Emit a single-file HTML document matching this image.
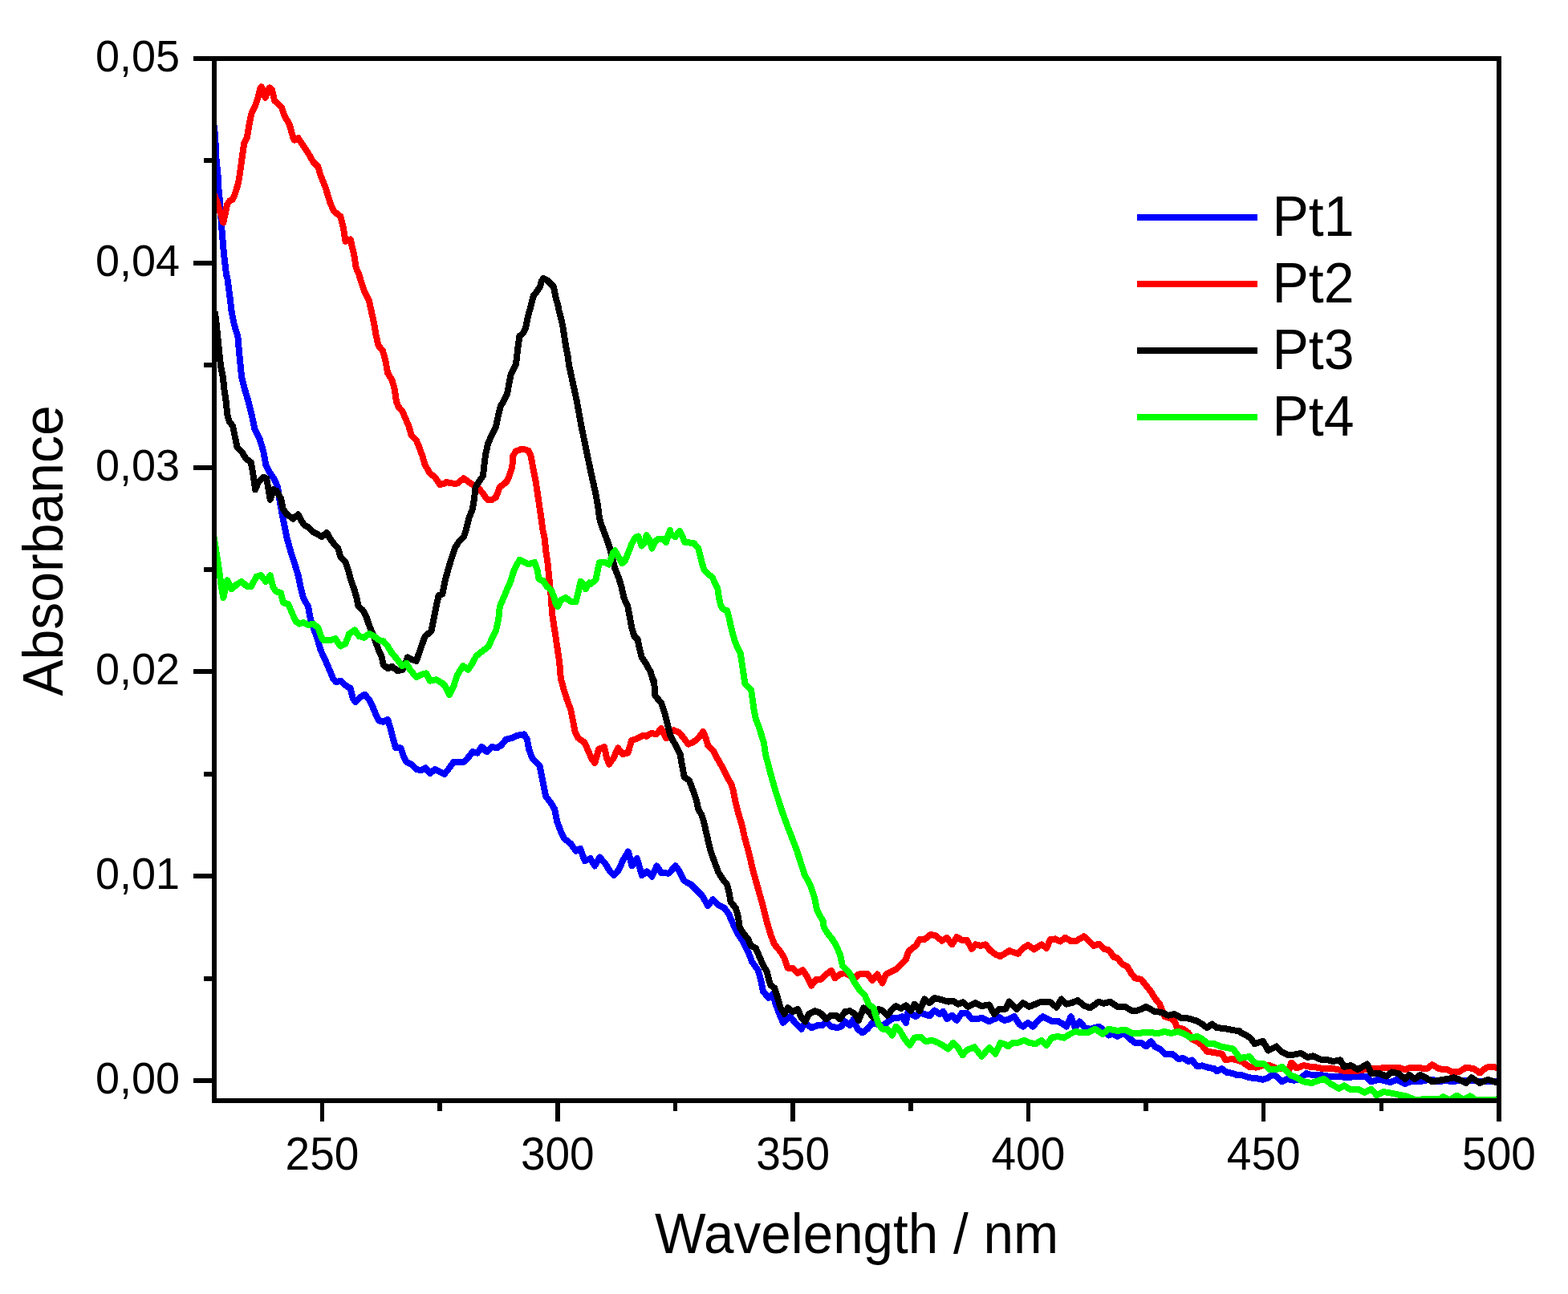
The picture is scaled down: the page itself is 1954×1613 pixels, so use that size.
<!DOCTYPE html>
<html><head><meta charset="utf-8"><title>Absorbance spectra</title>
<style>html,body{margin:0;padding:0;background:#fff;}body{width:1954px;height:1613px;overflow:hidden;}svg{display:block;}</style>
</head><body>
<svg width="1954" height="1613" viewBox="0 0 1954 1613">
<defs><clipPath id="pc"><rect x="267" y="73" width="1601" height="1299"/></clipPath></defs>
<g clip-path="url(#pc)" shape-rendering="crispEdges" fill="none" stroke-width="8" stroke-linejoin="round" stroke-linecap="butt">
<path d="M267 156 L268 171 L269 184 L269.2 195 L272 222.9 L272.4 235 L273.8 249 L276.6 288 L278.9 316 L282.2 343.8 L283.2 345.5 L286.3 368.7 L288.7 388.9 L291.8 404.4 L296.4 419.9 L298 438.5 L299.5 454 L301.1 469.5 L304.9 485 L309.6 500.5 L313.5 516 L317.3 534.5 L323.5 546.9 L328.2 562.4 L331.3 579.3 L335.9 588.6 L342.1 597.9 L346 607.2 L348.3 622.7 L351.4 639.7 L354.5 655.2 L357.6 670.7 L362.3 687.8 L366.9 701.7 L371.6 717.2 L374.7 732.7 L377.8 745.1 L384 756 L386.3 768.3 L388.6 777.6 L393.3 790 L396.4 799.3 L399.5 810.2 L407.2 827 L411.1 836.3 L415 845.6 L418.8 850.3 L424.3 848.7 L430.5 854.2 L436.7 858 L439.8 870.4 L442.9 875.1 L449 868.9 L454.5 865.8 L459.9 872 L464.5 881.3 L468.4 890.6 L472.3 898.3 L477.7 899.9 L483.1 896.8 L487 909.2 L490.1 921.6 L493.2 932.4 L499.4 932.4 L502.5 941.7 L506.4 949.5 L512.6 952.6 L518.8 958.8 L525 960.3 L530.4 957.2 L535.8 964.2 L542 958.8 L548.2 961.9 L553.6 965 L557.7 960.3 L565.5 949.5 L573.2 949.5 L578.7 949.5 L585.6 941.7 L588.7 937.1 L594.9 938.6 L600.4 930.9 L606.6 937.1 L612.8 930.9 L619 932.4 L624.4 929.3 L630.6 921.6 L638.3 920 L644.5 916.9 L653 915.4 L656.9 921.6 L659.2 934 L663.1 944.8 L672.4 954.1 L674.7 965 L677.1 977.4 L680.2 992.9 L686.4 1000.6 L691 1008.3 L694.1 1023.8 L698.8 1036.2 L703.4 1045.5 L711.2 1051.7 L717.8 1060.8 L723.2 1057.7 L728.7 1073.2 L735.6 1070.1 L741.1 1079.4 L747.3 1068.6 L754.2 1076.3 L759.7 1085.6 L765.1 1091.1 L771.3 1084.1 L775.9 1073.2 L782.9 1061.6 L787.6 1079.4 L793.8 1070.1 L799.9 1091.1 L806.1 1086.4 L812.3 1092.6 L818.5 1079.4 L824 1088 L833.3 1088.7 L841.8 1079.4 L846.4 1085.6 L852.6 1098 L861.2 1102.7 L867.4 1108.9 L875.1 1116.6 L882.1 1129 L888.3 1121.3 L895.2 1128.3 L903 1132.1 L908.4 1139.9 L913.8 1152.3 L920 1164.7 L926.2 1174 L932.4 1186.4 L937.1 1198.8 L944.8 1209.6 L947.9 1220.5 L951 1236 L958 1243.7 L963.4 1239 L966.5 1251.4 L971.2 1263.8 L975.8 1274.7 L984.8 1267.2 L991 1275 L998.7 1282.7 L1003.4 1275 L1011.1 1281.2 L1018.9 1278.1 L1025.1 1278.1 L1029.7 1273.4 L1035.9 1279.6 L1043.7 1281.2 L1048.3 1279.6 L1053 1273.4 L1059.2 1278.1 L1063.8 1270.3 L1068.5 1282.7 L1074.7 1287.4 L1080.9 1282.7 L1087.1 1275 L1093.3 1276.5 L1097.9 1279.6 L1102.6 1276.5 L1108.8 1271.9 L1113.4 1268.8 L1119.6 1268.8 L1124.3 1267.2 L1128.9 1275 L1132 1259.5 L1138.2 1265.7 L1141.3 1267.2 L1146 1262.6 L1152.1 1264.1 L1158.3 1266.4 L1164.5 1259.5 L1170.7 1264.1 L1175.4 1261 L1180 1270.3 L1186.2 1265.7 L1192.4 1271.9 L1198.6 1262.6 L1204.8 1262.6 L1211 1270.3 L1217.2 1270.3 L1223.4 1268.8 L1232.7 1273.4 L1238.9 1270.3 L1245.1 1268 L1251.3 1271.9 L1256.2 1271.1 L1263.9 1267.2 L1270.1 1276.5 L1274.8 1279.6 L1281 1275 L1287.2 1279.6 L1293.4 1272.6 L1299.6 1267.2 L1305.8 1270.3 L1312 1273.4 L1318.2 1272.6 L1324.4 1276.5 L1329 1279.6 L1334.5 1267.2 L1339.9 1281.2 L1345.3 1273.4 L1352.3 1281.2 L1358.5 1282.7 L1369.3 1279.6 L1374 1282.7 L1381.7 1290.5 L1386.4 1288.9 L1392.6 1292 L1400.3 1287.4 L1406.5 1293.6 L1414.3 1299.8 L1422 1299.8 L1428.2 1304.4 L1434.4 1298.2 L1439 1304.4 L1445.2 1307.5 L1451.4 1313.7 L1460.7 1313.7 L1468.5 1319.9 L1474.7 1319.1 L1480.9 1323 L1485.5 1321.4 L1491.7 1329.2 L1497.9 1328.4 L1505.7 1330.7 L1513.4 1332.3 L1516.5 1335.4 L1522.7 1332.3 L1528.9 1336.9 L1535.1 1337.7 L1541.3 1340 L1546.8 1339.9 L1556.9 1343.3 L1565.3 1344.1 L1573.8 1345.8 L1580.5 1343.3 L1585.6 1339.9 L1590.7 1341.6 L1597.4 1348.4 L1604.2 1345 L1612.6 1346.7 L1619.4 1345 L1627.8 1338.2 L1634.6 1339.9 L1643 1339.9 L1651.5 1340.8 L1658.2 1342.4 L1668.4 1341.6 L1678.5 1343.3 L1692 1341.6 L1702.1 1341.6 L1708.9 1348.4 L1717.3 1345.8 L1724.1 1346.7 L1732.5 1349.2 L1741 1345.8 L1751.1 1350.9 L1759.5 1347.5 L1768 1348.4 L1776.4 1346.7 L1784.9 1345.8 L1793.3 1348.4 L1801.8 1346.7 L1810.2 1348.4 L1818.7 1346.7 L1827.1 1347.5 L1835.5 1346.7 L1844 1348.4 L1852.4 1347.5 L1867.6 1347.5" stroke="#0000ff"/>
<path d="M265 237 L266 240 L270 250 L273.6 262 L276 270 L278.3 277.5 L281 265 L283 255 L286 250.5 L290 248.5 L292 244 L294 238 L297 228 L299 216 L300.5 205 L304.2 178.3 L308 170.6 L311.1 152 L313.5 141.1 L318.1 131.8 L321.2 122.5 L324.3 110.1 L325.9 108.3 L330.5 121.8 L335.9 109.4 L339 111.7 L342.1 125.6 L346.8 129.5 L350.7 133.4 L354.5 144.2 L360.7 155.1 L365.4 172.1 L366.9 174.5 L371.6 172.1 L377.8 181.4 L384 190.7 L390.2 201.6 L396.4 207.8 L399.5 218.6 L405.7 234.1 L411.9 254.3 L416.5 263.6 L424.3 269.8 L428.1 285.2 L430.5 300.7 L436.7 298.4 L441.3 317.8 L443.6 333.3 L447.5 342.4 L450.6 353.2 L454.5 364.1 L459.9 374.9 L463 388.9 L466.1 402.8 L468.4 416.8 L471.5 430.7 L476.9 436.9 L480 447.8 L483.1 464.8 L488.6 474.1 L491.7 485 L494 500.5 L496.3 506.7 L501.7 512.9 L504.8 520.6 L509.5 531.4 L512.6 542.3 L518.8 548.5 L521.9 556.2 L526.5 568.6 L529.6 579.3 L535.8 590.1 L542 594.8 L548.2 604.1 L554.4 602.5 L556.2 601 L563.9 602.5 L570.1 602.5 L577.9 596.3 L585.6 601.8 L590.3 604.9 L596.5 608.7 L601.1 614.2 L607.3 622.7 L613.5 622.7 L618.2 619.6 L622.8 607.2 L629 602.5 L632.1 599.4 L635.2 591.7 L638.3 582.4 L639.1 568.6 L643 562.4 L650.7 559.6 L658.5 561.7 L661.6 568.6 L664.7 585.5 L667.8 601 L670.1 616.5 L672.4 632 L674.7 647.5 L676.3 659.9 L678.6 670.7 L680.2 686.2 L682.5 701.7 L684 717.2 L685.6 732.7 L687.1 748.2 L687.9 763.7 L690.2 779.2 L692.6 794.7 L694.9 810.2 L697.2 825.5 L698.8 845.6 L702.6 859.6 L706.5 872 L711.2 884.4 L714.3 899.9 L716.6 912.3 L720.5 920 L728.2 925.4 L732.9 935.5 L737.5 946.4 L741.4 951 L746 934 L753 930.9 L756.1 944.8 L759.2 952.6 L764.6 944.8 L770 932.4 L776.2 940.2 L782.4 938.6 L787.1 923.1 L793.3 920.8 L801 916.9 L805.7 917.7 L811.9 913.8 L817.9 915.3 L824 908.1 L830.2 920.4 L834.2 913.2 L839.4 910.2 L846.5 913.2 L851.6 919.4 L857.8 927.6 L862.9 925.5 L869 921.4 L876.2 912.2 L879.3 919.4 L882.4 929.6 L889.5 936.8 L890.8 940 L899.3 954.9 L906.8 969.8 L911.3 977.2 L913.5 984.6 L916.5 999.5 L920.3 1014.4 L924.8 1029.3 L928 1044.2 L933 1062 L938.2 1084.6 L944.5 1107 L950.8 1129.3 L951.8 1133.7 L955.7 1149.2 L960.3 1164.7 L965 1177.1 L972.7 1186.4 L977.4 1194.1 L981.7 1206.8 L987.9 1206.8 L994.1 1213 L1000.3 1209.1 L1004.9 1216.1 L1011.1 1228.5 L1017.3 1220.7 L1023.5 1220.7 L1029.7 1214.5 L1035.9 1209.9 L1040.6 1219.2 L1046.8 1214.5 L1053 1213 L1059.2 1216.1 L1065.4 1219.2 L1070 1214.5 L1080.9 1213.8 L1087.1 1222.3 L1093.3 1214.5 L1099.5 1225.4 L1104.1 1214.5 L1110.3 1211.4 L1116.5 1208.3 L1122.7 1202.1 L1128.9 1195.9 L1132 1186.6 L1136.7 1182 L1141.3 1178.9 L1146 1171.1 L1152.1 1171.1 L1159.9 1164.9 L1166.1 1166.5 L1173.8 1172.7 L1180 1168.8 L1186.2 1177.3 L1192.4 1168 L1198.6 1171.9 L1204.8 1171.9 L1211 1182.8 L1215.7 1177.3 L1221.9 1178.9 L1228.1 1177.3 L1234.3 1185.1 L1240.5 1189.7 L1246.7 1192.1 L1252.9 1188.2 L1257.7 1185.1 L1268.6 1189 L1274.8 1182 L1281 1178.1 L1288.7 1183.5 L1298 1177.3 L1304.2 1182 L1308.9 1171.1 L1315.1 1170.4 L1321.3 1173.5 L1327.5 1168.8 L1335.2 1173.5 L1341.4 1172.7 L1350.7 1167.3 L1358.5 1174.2 L1363.1 1178.9 L1369.3 1176.6 L1375.5 1182.8 L1381.7 1184.3 L1387.9 1192.8 L1392.6 1194.4 L1398.8 1202.1 L1405 1205.2 L1409.6 1213 L1414.3 1219.2 L1422 1220.7 L1428.2 1228.5 L1434.4 1236.2 L1439 1244 L1445.2 1251.7 L1448.3 1259.5 L1451.4 1267.2 L1459.2 1269.5 L1463.8 1273.4 L1466.9 1281.2 L1474.7 1282.7 L1480.9 1287.4 L1485.5 1295.1 L1491.7 1298.2 L1497.9 1302.9 L1504.1 1310.6 L1513.4 1312.1 L1522.7 1313.7 L1527.4 1321.4 L1535.1 1319.9 L1541.3 1321.4 L1548.4 1323.9 L1556.9 1329.8 L1565.3 1330.6 L1573.8 1328.1 L1582.2 1328.1 L1590.7 1331.5 L1599.1 1332.3 L1605.9 1334.8 L1609.2 1324.7 L1616 1331.5 L1624.4 1328.1 L1632.9 1329.8 L1641.3 1330.6 L1649.8 1332.3 L1658.2 1331.5 L1666.7 1333.2 L1675.1 1334.8 L1692 1334.8 L1702.1 1333.2 L1708.9 1331.5 L1717.3 1332.3 L1725.8 1330.6 L1734.2 1331.5 L1742.7 1330.6 L1751.1 1333.2 L1757.9 1330.6 L1768 1331.1 L1778.1 1332.3 L1784.9 1327.2 L1793.3 1332.3 L1803.5 1333.2 L1810.2 1336.5 L1818.7 1335.7 L1827.1 1330.6 L1837.2 1332.3 L1844 1337.4 L1852.4 1330.6 L1860.9 1329.8 L1867.6 1331.5" stroke="#ff0000"/>
<path d="M267.7 388.9 L269.3 399.7 L270.8 415.2 L272.4 430.7 L273.9 446.2 L275.5 458.6 L277.8 469.5 L279.4 485 L281.7 500.5 L283.2 516 L285.6 525.2 L290.2 531.4 L293.3 546.9 L295.6 557.8 L301.8 564 L306.5 571.7 L312.7 576.2 L315 588.6 L318.1 610.3 L322 601 L328.2 594.8 L332.1 596.3 L334.4 608.7 L336.7 622.7 L340.6 610.3 L344.5 611.8 L349.9 621.1 L353 635.1 L357.6 641.3 L365.4 646.7 L371.6 641.3 L375.4 649 L379.3 654.5 L384 656.8 L390.2 663 L394.8 665.3 L401 669.2 L407.2 663.8 L411.9 672.3 L416.5 678.5 L421.2 683.1 L424.3 694 L430.5 700.2 L433.6 709.5 L437.4 723.4 L441.3 734.3 L444.4 745.1 L446.7 756 L452.1 760.6 L456.8 769.9 L459.9 779.2 L464.5 790 L468.4 800.9 L472.3 811.7 L475.4 817.7 L477.7 828.6 L483.1 833.2 L488.6 830.9 L495.5 836.3 L501.7 834.8 L504.8 828.6 L507.9 819.3 L514.1 822.4 L518.8 823.9 L529.6 793.1 L537.4 786.9 L540.5 771.4 L543.6 756 L546.7 742 L551.3 740.5 L554.4 725 L558.5 709.5 L562.4 697.1 L567 683.1 L571.7 675.4 L577.9 669.2 L581 659.9 L584.9 644.4 L588.7 635.1 L591.1 621.1 L592.6 607.2 L596.5 601 L601.9 593.2 L603.5 579.3 L605 567.1 L608.1 553.1 L612.8 542.3 L618.2 531.4 L621.3 516 L623.6 506.7 L628.3 498.9 L632.1 491.2 L634.5 477.2 L636.8 466.4 L641.4 457.1 L643 454 L645.6 431.7 L647.4 419.1 L651.9 415.4 L654.9 409.4 L658 394.5 L662 379.6 L664.9 368.5 L668.3 364.4 L673.1 357.3 L675 349.9 L677.2 346.9 L681.7 349.1 L686.1 353.6 L689.9 357.3 L691.3 364.8 L692.8 372.2 L695.1 379.6 L696.5 387.1 L698.6 394.5 L700.3 402 L701.8 409.4 L702.9 416.8 L704 424.3 L705.1 431.7 L706.6 439.2 L708.1 446.6 L708.8 454 L718.8 500 L724.2 529.8 L730.3 559.5 L736.5 589.3 L742.2 615 L745 629.9 L746.9 644.8 L748.8 652.2 L751.4 659.6 L757 674.5 L760.7 685.7 L766 708 L770.7 719.2 L774.1 730 L777.4 744.9 L782.3 756 L784.5 767.2 L787.1 782.1 L790.5 793.2 L794.6 797 L796.9 808.1 L799.8 819.3 L804.6 826.7 L810.9 837.9 L813.9 849 L815 848.7 L816.5 867.3 L824.3 876.6 L828.9 890.6 L832 903 L835.3 916.3 L839.4 924.5 L843.5 931.6 L847.6 939.8 L849.6 952.1 L851.6 962.4 L852.7 968.5 L858.8 972.6 L861.9 980.8 L865 989 L868 998.2 L870.1 1008.4 L874.2 1015.6 L877.2 1025 L882.9 1050 L886 1062.4 L890.6 1074.8 L895.2 1087.2 L899.9 1094.9 L906.1 1102.7 L908.4 1112 L910.7 1124.4 L916.9 1132.1 L920 1143 L921.6 1155.4 L926.2 1163.1 L932.4 1170.9 L935.5 1178.6 L941.7 1181.7 L946.4 1192.6 L951 1203.4 L955.7 1211.2 L958 1220.5 L960.3 1228.2 L965 1231.3 L968.1 1240.6 L972.7 1256.1 L977.4 1263.8 L981.7 1256.4 L987.9 1261 L994.1 1257.9 L998.7 1268.8 L1003.4 1273.4 L1008 1264.1 L1015.8 1260.2 L1022 1262.6 L1029.7 1270.3 L1035.9 1265.7 L1042.1 1265.7 L1046.8 1270.3 L1053 1261 L1059.2 1260.2 L1065.4 1264.1 L1070 1271.9 L1076.2 1256.4 L1082.4 1261 L1088.6 1268.8 L1094.8 1257.9 L1099.5 1259.5 L1105.7 1265.7 L1111.9 1257.9 L1116.5 1254 L1122.7 1257.1 L1128.9 1253.3 L1135.1 1260.2 L1139.8 1251.7 L1146 1260.2 L1152.1 1245.5 L1158.3 1250.2 L1164.5 1244 L1173.8 1246.3 L1181.6 1248.6 L1187.8 1247.8 L1194 1251.7 L1200.2 1249.4 L1206.4 1254.8 L1215.7 1250.2 L1223.4 1254 L1232.7 1252.5 L1238.9 1264.1 L1245.1 1257.9 L1252.9 1257.9 L1257.7 1248.6 L1267 1257.9 L1274.8 1250.2 L1282.5 1254.8 L1290.3 1251.7 L1298 1248.6 L1308.9 1249.4 L1316.6 1255.6 L1322.8 1245.5 L1329 1251.7 L1335.2 1250.2 L1343 1247.1 L1350.7 1253.3 L1358.5 1256.4 L1369.3 1248.6 L1375.5 1250.9 L1383.3 1248.6 L1392.6 1254.8 L1401.9 1254.8 L1409.6 1259.5 L1415.8 1260.2 L1422 1257.9 L1428.2 1254.8 L1439 1261 L1446.8 1261.8 L1456.1 1265.7 L1463.8 1264.1 L1471.6 1268.8 L1480.9 1269.5 L1491.7 1272.6 L1497.9 1276.5 L1504.1 1281.2 L1510.3 1276.5 L1516.5 1281.2 L1525.8 1281.9 L1536.7 1284.3 L1544.4 1285 L1546.8 1287.6 L1553.5 1290.9 L1558.6 1294.3 L1563.6 1301.1 L1573.8 1297.7 L1580.5 1309.5 L1590.7 1304.4 L1597.4 1311.2 L1604.2 1314.6 L1612.6 1314.6 L1621.1 1312.9 L1629.5 1318 L1636.3 1316.3 L1644.7 1320.5 L1654.8 1321.3 L1661.6 1323 L1670 1321.3 L1675.1 1329.8 L1683.6 1328.1 L1692 1333.2 L1703.8 1326.4 L1708.9 1338.2 L1719 1338.2 L1727.5 1341.6 L1734.2 1336.5 L1742.7 1338.2 L1751.1 1345 L1756.2 1339.9 L1762.9 1345 L1769.7 1339.9 L1776.4 1343.3 L1784.9 1348.4 L1793.3 1346.7 L1803.5 1345 L1811.9 1343.3 L1818.7 1345.8 L1827.1 1350 L1833.9 1343.3 L1844 1350 L1854.1 1345.8 L1867.6 1350" stroke="#000000"/>
<path d="M265.5 664 L266.4 668.8 L270.9 696.5 L273.9 716.4 L276 732 L278.4 745 L283.2 723.4 L288.7 734.3 L295.6 728.1 L301.1 725 L308 731.2 L312.7 731.2 L319.7 718.8 L325.1 717.2 L331.3 725 L336.7 717.2 L340.6 732.7 L344.5 737.4 L349.9 738.9 L353 751.3 L359.2 752.9 L363.8 763.7 L368.5 774.5 L373.1 777.6 L377.8 776.1 L384 779.2 L390.2 777.6 L396.4 782.3 L399.5 791.6 L402.6 797.8 L411.9 797.8 L418.1 796.2 L424.3 805.5 L430.5 802.4 L435.1 790 L442.1 785.4 L447.5 793.1 L453.7 794.7 L459.9 790 L466.1 793.1 L472.3 797.8 L477.7 799.3 L483.1 805.5 L487.8 813.3 L495.5 822.4 L501 830.1 L506.4 827 L511 834.8 L518.8 844.1 L525 841 L531.2 839.4 L535.8 848.7 L543.6 847.2 L551.3 851.8 L554.6 854.9 L560.1 865.8 L565.5 854.9 L570.1 841 L577.1 830.1 L583.3 834.8 L588.7 827 L593.4 817.7 L604.2 809.4 L608.9 805.5 L613.5 794.7 L618.2 785.4 L621.3 771.4 L622.8 756 L627.5 745.1 L632.1 734.3 L636.8 723.4 L639.9 712.6 L644.5 703.3 L647.6 697.8 L652.3 700.2 L658.5 703.3 L666.2 700.9 L669.3 709.5 L671.6 721.9 L677.1 724.2 L681.7 731.2 L687.1 735.8 L690.2 743.6 L692.6 752.9 L694.9 756 L698.8 748.2 L705 745.1 L711.2 749.8 L717.4 750.5 L720.5 738.9 L723.6 725 L726.7 728.1 L729.8 734.3 L734.4 726.5 L735.7 728.1 L742.4 722.9 L744.7 711.7 L746.9 701.3 L753.6 700.6 L758.8 703.5 L764 689.4 L766.3 686.4 L770.7 693.9 L775.2 702.1 L778.9 699.1 L783.4 687.9 L787.1 678.2 L791.5 670.1 L795.3 668.6 L799.7 680.5 L803.5 676.8 L805.7 667.1 L809.4 673 L812.4 683.5 L816.8 674.5 L820.6 671.5 L826.5 671.5 L830.2 676 L833.2 665.6 L835 661.1 L835.1 664.5 L841.3 669.2 L847 661.7 L850.8 669.4 L853.2 675.6 L858.6 676.4 L864.8 677.2 L870.2 683.4 L872.5 692.7 L874.9 702 L877.2 709.7 L882.6 715.9 L887.3 719 L891.1 726.8 L894.2 733 L895.8 743.8 L898.1 754.7 L901.2 759.3 L905.9 760.9 L908.2 768.6 L910.5 779.5 L912.8 788.8 L915.9 799.6 L919 807.4 L922.9 815.1 L924.5 826 L926.8 841.4 L928.3 852.3 L933 856.9 L936.1 860 L939.7 885.6 L941.7 895.8 L945.8 906.1 L948.9 916.3 L952 926.5 L953.9 940 L960.5 965 L967.5 989.6 L975.5 1014 L981.4 1030 L992.9 1059.8 L1002.4 1089.5 L1010.2 1104.4 L1015.1 1119.3 L1018 1134.2 L1026 1149 L1026.6 1155.6 L1031.3 1163.4 L1037.5 1171.1 L1042.1 1178.9 L1046.8 1189.7 L1049.9 1203.7 L1056.1 1209.9 L1060.7 1216.1 L1065.4 1225.4 L1071.6 1234.7 L1077.8 1240.9 L1082.4 1251.7 L1088.6 1256.4 L1091.7 1267.2 L1094.8 1276.5 L1099.5 1282.7 L1105.7 1282.7 L1111.9 1290.5 L1116.5 1279.6 L1121.2 1284.3 L1127.4 1295.1 L1133.6 1302.9 L1139.8 1293.6 L1147.5 1292.8 L1153.7 1298.2 L1161.4 1296.7 L1169.2 1299.8 L1176.9 1304.4 L1181.6 1307.5 L1187.8 1299.8 L1194 1306 L1199.4 1315.2 L1204.8 1309 L1214.1 1305.2 L1223.4 1316.8 L1232.7 1306 L1240.5 1313.7 L1246.7 1299.8 L1252.9 1302.1 L1256.2 1304.4 L1262.4 1299.8 L1268.6 1299.8 L1276.3 1296.7 L1282.5 1299.8 L1290.3 1301.3 L1298 1296.7 L1304.2 1302.9 L1310.4 1293.6 L1318.2 1292 L1325.9 1293.6 L1333.7 1288.9 L1339.9 1285.8 L1347.6 1287.4 L1355.4 1287.4 L1364.7 1282.7 L1374 1288.9 L1381.7 1282.7 L1392.6 1285 L1401.9 1283.5 L1411.2 1288.1 L1418.9 1288.1 L1428.2 1286.6 L1443.7 1288.1 L1451.4 1285.8 L1459.2 1288.1 L1468.5 1285.8 L1476.2 1288.9 L1484 1293.6 L1491.7 1292 L1497.9 1295.1 L1505.7 1301.3 L1513.4 1301.3 L1521.2 1304.4 L1528.9 1306 L1536.7 1307.5 L1541.3 1313.7 L1545.1 1319.6 L1550.1 1318 L1556.9 1317.1 L1562 1323 L1567 1326.4 L1575.5 1326.4 L1582.2 1333.2 L1590.7 1333.2 L1597.4 1329.8 L1602.5 1334.8 L1607.6 1339.9 L1616 1343.3 L1624.4 1348.4 L1634.6 1350 L1641.3 1347.5 L1649.8 1345 L1658.2 1350.9 L1668.4 1356.8 L1675.1 1353.4 L1683.6 1358.5 L1692 1357.6 L1700.4 1361.9 L1708.9 1357.6 L1715.6 1365.2 L1724.1 1361 L1734.2 1362.7 L1746 1365.2 L1752.8 1366.6 L1762.9 1370.8 L1776.4 1370.3 L1784.9 1369.5 L1793.3 1370.6 L1798.4 1367.3 L1806.8 1371.2 L1815.3 1365.6 L1823.7 1370.6 L1832.2 1366.3 L1838.9 1371.2 L1852.4 1371.2 L1867.6 1370.3" stroke="#00ff00"/>
</g>
<g stroke="#000" stroke-width="6" fill="none" shape-rendering="crispEdges">
<rect x="267" y="73" width="1601" height="1299"/>
<line x1="241" y1="1347.0" x2="267" y2="1347.0"/>
<line x1="241" y1="1092.2" x2="267" y2="1092.2"/>
<line x1="241" y1="837.4" x2="267" y2="837.4"/>
<line x1="241" y1="582.6" x2="267" y2="582.6"/>
<line x1="241" y1="327.8" x2="267" y2="327.8"/>
<line x1="241" y1="73.0" x2="267" y2="73.0"/>
<line x1="254" y1="1219.6" x2="267" y2="1219.6"/>
<line x1="254" y1="964.8" x2="267" y2="964.8"/>
<line x1="254" y1="710.0" x2="267" y2="710.0"/>
<line x1="254" y1="455.2" x2="267" y2="455.2"/>
<line x1="254" y1="200.4" x2="267" y2="200.4"/>
<line x1="401.50" y1="1372" x2="401.50" y2="1398" stroke-width="5.5"/>
<line x1="694.80" y1="1372" x2="694.80" y2="1398" stroke-width="5.5"/>
<line x1="988.10" y1="1372" x2="988.10" y2="1398" stroke-width="5.5"/>
<line x1="1281.40" y1="1372" x2="1281.40" y2="1398" stroke-width="5.5"/>
<line x1="1574.70" y1="1372" x2="1574.70" y2="1398" stroke-width="5.5"/>
<line x1="1868.00" y1="1372" x2="1868.00" y2="1398" stroke-width="5.5"/>
<line x1="548.15" y1="1372" x2="548.15" y2="1385" stroke-width="5.5"/>
<line x1="841.45" y1="1372" x2="841.45" y2="1385" stroke-width="5.5"/>
<line x1="1134.75" y1="1372" x2="1134.75" y2="1385" stroke-width="5.5"/>
<line x1="1428.05" y1="1372" x2="1428.05" y2="1385" stroke-width="5.5"/>
<line x1="1721.35" y1="1372" x2="1721.35" y2="1385" stroke-width="5.5"/>
</g>
<g font-family="'Liberation Sans', Arial, sans-serif" fill="#000">
<text transform="translate(224 1363.0) scale(1 1.045)" font-size="54" text-anchor="end">0,00</text>
<text transform="translate(224 1108.2) scale(1 1.045)" font-size="54" text-anchor="end">0,01</text>
<text transform="translate(224 853.4) scale(1 1.045)" font-size="54" text-anchor="end">0,02</text>
<text transform="translate(224 598.6) scale(1 1.045)" font-size="54" text-anchor="end">0,03</text>
<text transform="translate(224 343.8) scale(1 1.045)" font-size="54" text-anchor="end">0,04</text>
<text transform="translate(224 89.0) scale(1 1.045)" font-size="54" text-anchor="end">0,05</text>
<text transform="translate(401.5 1458) scale(1 1.027)" font-size="55" text-anchor="middle">250</text>
<text transform="translate(694.8 1458) scale(1 1.027)" font-size="55" text-anchor="middle">300</text>
<text transform="translate(988.1 1458) scale(1 1.027)" font-size="55" text-anchor="middle">350</text>
<text transform="translate(1281.4 1458) scale(1 1.027)" font-size="55" text-anchor="middle">400</text>
<text transform="translate(1574.7 1458) scale(1 1.027)" font-size="55" text-anchor="middle">450</text>
<text transform="translate(1868.0 1458) scale(1 1.027)" font-size="55" text-anchor="middle">500</text>
<text transform="translate(1067.5 1562) scale(1 1.055)" font-size="67.4" text-anchor="middle">Wavelength / nm</text>
<text transform="translate(78 686.5) rotate(-90) scale(1 1.045)" font-size="67.9" text-anchor="middle">Absorbance</text>
<line x1="1417" y1="271" x2="1567" y2="271" stroke="#0000ff" stroke-width="8"/>
<text transform="translate(1585.5 294) scale(1 1.035)" font-size="68">Pt1</text>
<line x1="1417" y1="354" x2="1567" y2="354" stroke="#ff0000" stroke-width="8"/>
<text transform="translate(1585.5 377) scale(1 1.035)" font-size="68">Pt2</text>
<line x1="1417" y1="437" x2="1567" y2="437" stroke="#000000" stroke-width="8"/>
<text transform="translate(1585.5 460) scale(1 1.035)" font-size="68">Pt3</text>
<line x1="1417" y1="520" x2="1567" y2="520" stroke="#00ff00" stroke-width="8"/>
<text transform="translate(1585.5 543) scale(1 1.035)" font-size="68">Pt4</text>
</g>
</svg>
</body></html>
